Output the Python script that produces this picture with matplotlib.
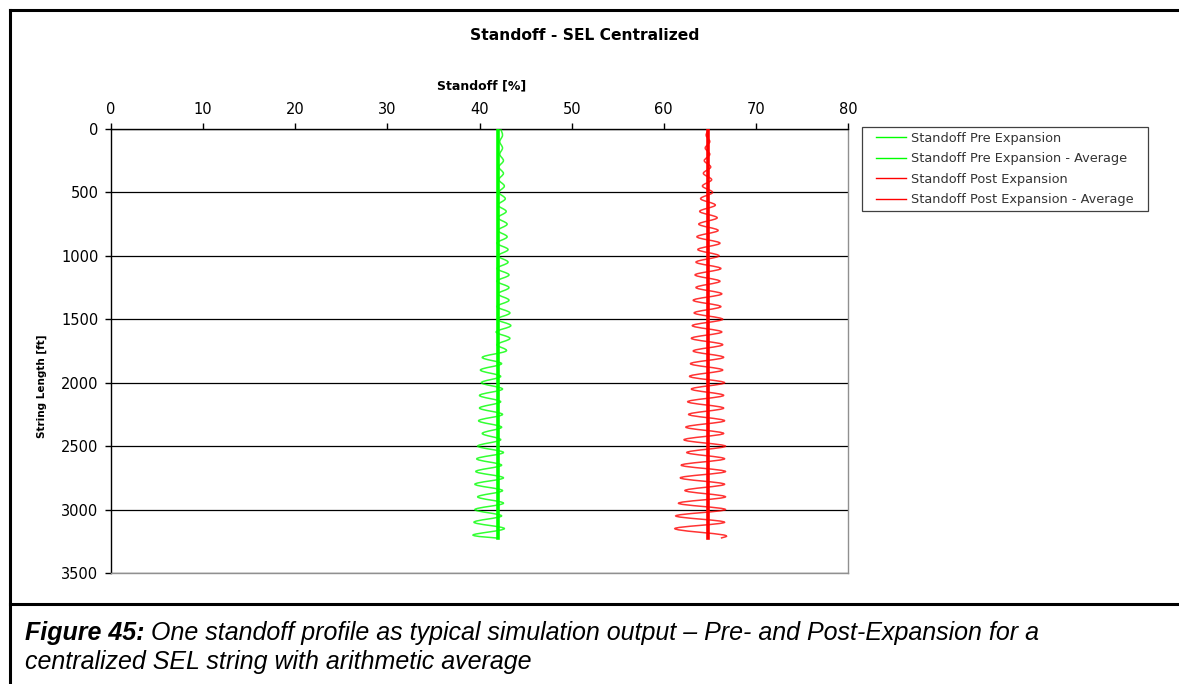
import matplotlib
matplotlib.use('Agg')
import matplotlib.pyplot as plt
import numpy as np
from matplotlib.lines import Line2D
from matplotlib.path import Path
from matplotlib.patches import PathPatch, Rectangle

# string length [ft] where the standoff was read
depth = [0, 50, 100, 150, 200, 250, 300, 350, 400, 450,
         500, 550, 600, 650, 700, 750, 800, 850, 900, 950,
         1000, 1050, 1100, 1150, 1200, 1250, 1300, 1350, 1400, 1450,
         1500, 1550, 1600, 1650, 1700, 1750, 1800, 1850, 1900, 1950,
         2000, 2050, 2100, 2150, 2200, 2250, 2300, 2350, 2400, 2450,
         2500, 2550, 2600, 2650, 2700, 2750, 2800, 2850, 2900, 2950,
         3000, 3050, 3100, 3150, 3200, 3225]

# standoff [%] pre expansion
pre = [42.3, 42.5, 42.2, 42.5, 42.2, 42.6, 42.1, 42.6, 42.1, 42.7,
       42.1, 42.8, 42.0, 42.9, 42.0, 43.0, 42.0, 43.0, 41.9, 43.1,
       42.0, 43.1, 41.9, 43.2, 41.9, 43.2, 42.0, 43.2, 41.9, 43.3,
       41.9, 43.4, 41.8, 43.3, 41.9, 42.9, 40.3, 42.4, 40.1, 42.3,
       40.2, 42.5, 40.0, 42.3, 40.0, 42.5, 39.9, 42.4, 40.3, 42.3,
       39.8, 42.6, 39.7, 42.4, 39.6, 42.6, 39.5, 42.5, 39.8, 42.6,
       39.5, 42.4, 39.4, 42.7, 39.3, 42.0]

# standoff [%] post expansion
post = [64.9, 64.6, 65.0, 64.5, 65.0, 64.4, 65.1, 64.3, 65.2, 64.2,
        65.3, 64.0, 65.6, 63.9, 65.8, 63.8, 65.9, 63.6, 66.1, 63.7,
        66.0, 63.5, 66.2, 63.4, 66.1, 63.5, 66.3, 63.2, 66.2, 63.3,
        66.4, 63.1, 66.3, 63.0, 66.4, 63.2, 66.5, 62.9, 66.4, 62.8,
        66.6, 63.0, 66.5, 62.6, 66.5, 62.7, 66.6, 62.4, 66.5, 62.2,
        66.7, 62.5, 66.6, 61.9, 66.7, 61.8, 66.6, 62.3, 66.7, 61.6,
        66.7, 61.3, 66.6, 61.2, 66.5, 66.2]

avg_depth = [0, 3225]
pre_avg = [42.0, 42.0]
post_avg = [64.8, 64.8]

labels = ['Standoff Pre Expansion', 'Standoff Pre Expansion - Average',
          'Standoff Post Expansion', 'Standoff Post Expansion - Average']

GREEN = '#00ff00'
RED = '#ff0000'


def smooth_path(x, y):
    # excel-like smoothed line: catmull-rom turned into bezier segments
    pts = np.column_stack([x, y]).astype(float)
    verts = [pts[0]]
    codes = [Path.MOVETO]
    n = len(pts)
    for i in range(n - 1):
        p0 = pts[max(i - 1, 0)]
        p1 = pts[i]
        p2 = pts[i + 1]
        p3 = pts[min(i + 2, n - 1)]
        c1 = p1 + (p2 - p0) / 6.0
        c2 = p2 - (p3 - p1) / 6.0
        verts += [c1, c2, p2]
        codes += [Path.CURVE4] * 3
    return Path(verts, codes)


W, H = 1179, 684
fig = plt.figure(figsize=(W / 100, H / 100), dpi=100)
ax = fig.add_axes([111 / W, 1 - 573 / H, 737 / W, 444 / H])

ax.set_xlim(0, 80)
ax.set_ylim(3500, 0)
ax.xaxis.tick_top()
ax.set_xticks(range(0, 81, 10))
ax.set_yticks(range(0, 3501, 500))
ax.tick_params(direction='out', length=4, width=1, labelsize=10.5, pad=5, colors='black')
ax.grid(axis='y', color='black', lw=0.9)
ax.set_axisbelow(True)
for s in ['left', 'top']:
    ax.spines[s].set_color('black')
    ax.spines[s].set_linewidth(1)
for s in ['right', 'bottom']:
    ax.spines[s].set_color('#909090')
    ax.spines[s].set_linewidth(1)

ax.add_patch(PathPatch(smooth_path(pre, depth), fill=False, edgecolor=GREEN, lw=1.1, alpha=0.8, zorder=3))
ax.add_patch(PathPatch(smooth_path(post, depth), fill=False, edgecolor=RED, lw=1.1, alpha=0.8, zorder=3))
ax.plot(pre_avg, avg_depth, color=GREEN, lw=2.6, zorder=4)
ax.plot(post_avg, avg_depth, color=RED, lw=2.6, zorder=4)

fig.text(585 / W, 1 - 36 / H, 'Standoff - SEL Centralized', ha='center', va='center',
         fontsize=11.2, fontweight='bold')
fig.text(482 / W, 1 - 86 / H, 'Standoff [%]', ha='center', va='center', fontsize=9, fontweight='bold')
fig.text(42 / W, 1 - 386 / H, 'String Length [ft]', ha='center', va='center', rotation=90,
         fontsize=7.5, fontweight='bold', family=['Liberation Sans Narrow', 'DejaVu Sans'])

# legend box drawn separately, excel pads it more on the sides
fig.add_artist(Rectangle((862 / W, 1 - 211 / H), 286 / W, 84 / H, transform=fig.transFigure,
                         fill=False, edgecolor='#404040', lw=0.9))
handles = [Line2D([], [], color=GREEN, lw=1), Line2D([], [], color=GREEN, lw=1),
           Line2D([], [], color=RED, lw=1), Line2D([], [], color=RED, lw=1)]
leg = fig.legend(handles, labels, loc='upper left', bbox_to_anchor=(870 / W, 1 - 126 / H),
                 frameon=False, fontsize=9.3,
                 handlelength=2.3, handletextpad=0.4, labelspacing=0.58, borderpad=0.45,
                 borderaxespad=0)
for t in leg.get_texts():
    t.set_color('#333333')

# frame and caption box
fig.add_artist(Line2D([10 / W, 1], [1 - 10 / H, 1 - 10 / H], color='black', lw=2.2))
fig.add_artist(Line2D([10 / W, 10 / W], [0, 1 - 10 / H], color='black', lw=2.2))
fig.add_artist(Line2D([10 / W, 1], [1 - 604 / H, 1 - 604 / H], color='black', lw=2.2))

cap = dict(family=['Liberation Sans', 'DejaVu Sans'], fontsize=18, fontstyle='italic', va='center')
t1 = fig.text(25 / W, 1 - 633 / H, 'Figure 45:', fontweight='bold', **cap)
cap2 = dict(cap)
cap2.pop('va')
ax.annotate(' One standoff profile as typical simulation output \u2013 Pre- and Post-Expansion for a',
            xy=(1, 0.5), xycoords=t1, va='center', annotation_clip=False, **cap2)
fig.text(25 / W, 1 - 662 / H, 'centralized SEL string with arithmetic average', **cap)

fig.savefig('out.png', dpi=100)
